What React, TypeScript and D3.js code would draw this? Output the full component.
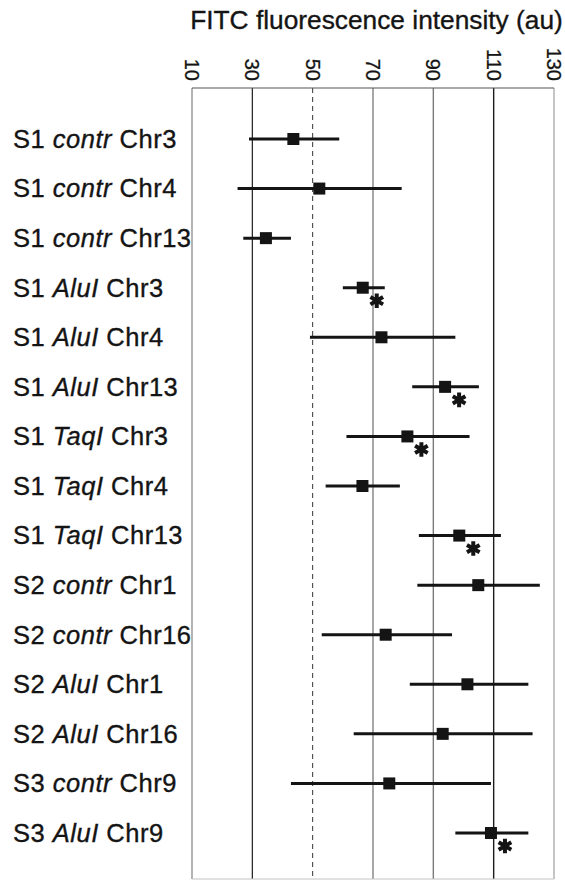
import * as d3 from 'd3'

// FITC intensity per sample / treatment / chromosome, mean with range bars
const SAMPLES = ['S1', 'S1', 'S1', 'S1', 'S1', 'S1', 'S1', 'S1', 'S1', 'S2', 'S2', 'S2', 'S2', 'S3', 'S3']
const TREATMENTS = ['contr', 'contr', 'contr', 'AluI', 'AluI', 'AluI', 'TaqI', 'TaqI', 'TaqI', 'contr', 'contr', 'AluI', 'AluI', 'contr', 'AluI']
const CHROMS = ['Chr3', 'Chr4', 'Chr13', 'Chr3', 'Chr4', 'Chr13', 'Chr3', 'Chr4', 'Chr13', 'Chr1', 'Chr16', 'Chr1', 'Chr16', 'Chr9', 'Chr9']
const MEANS = [43.6, 52.2, 34.5, 66.6, 72.8, 93.9, 81.4, 66.5, 98.6, 104.9, 74.2, 101.3, 93.1, 75.4, 109.1]
const LOWS = [28.9, 25.1, 27.0, 60.0, 49.1, 83.0, 61.2, 54.3, 85.2, 84.7, 53.0, 82.2, 63.6, 42.8, 97.3]
const HIGHS = [58.8, 79.5, 42.8, 73.9, 97.3, 105.1, 102.0, 78.9, 112.4, 125.3, 96.2, 121.5, 122.9, 109.1, 121.5]
const SIGNIFICANT = [false, false, false, true, false, true, true, false, true, false, false, false, false, false, true]
const TICKS = [10, 30, 50, 70, 90, 110, 130]

const W = 565, H = 881
const FONT = '"Liberation Sans", Arial, sans-serif'
const INK = '#141414'

// scan-like look of the gridlines
const GRID_STYLE: Record<number, { stroke: string; width: number; dash?: string }> = {
  10: { stroke: '#8a8a8a', width: 1.3 },
  30: { stroke: '#1c1c1c', width: 1.2 },
  50: { stroke: '#333', width: 1, dash: '5,4' },
  70: { stroke: '#8a8a8a', width: 1.5 },
  90: { stroke: '#7a7a7a', width: 1.4 },
  110: { stroke: '#1c1c1c', width: 1.4 },
  130: { stroke: '#a0a0a0', width: 1.2 },
}

export default function App() {
  const rows = MEANS.map((m, i) => ({
    key: `${SAMPLES[i]}-${TREATMENTS[i]}-${CHROMS[i]}-${i}`,
    sample: SAMPLES[i], treat: TREATMENTS[i], chrom: CHROMS[i],
    mean: m, lo: LOWS[i], hi: HIGHS[i], sig: SIGNIFICANT[i],
  }))

  const plotTop = 88, plotBottom = 879
  const x = d3.scaleLinear().domain([10, 130]).range([192, 554])
  const y = d3.scalePoint<string>().domain(rows.map(r => r.key)).range([139, 833])

  const star = d3.symbol().type(d3.symbolAsterisk).size(150)()

  return (
    <div style={{ position: 'absolute', left: 0, top: 0 }}>
      <svg width={W} height={H} style={{ display: 'block', background: '#fff' }}>
        <text x={376.5} y={29} textAnchor="middle" fontFamily={FONT} fontSize={26.3} fill={INK}
          stroke={INK} strokeWidth={0.35}>
          FITC fluorescence intensity (au)
        </text>

        {/* tick labels, rotated clockwise */}
        {TICKS.map(t => (
          <text key={t} transform={`translate(${x(t)},81) rotate(90)`} textAnchor="end" dy="0.35em"
            fontFamily={FONT} fontSize={20} fill={INK} stroke={INK} strokeWidth={0.3}>{t}</text>
        ))}

        {/* gridlines */}
        {TICKS.map(t => {
          const s = GRID_STYLE[t]
          return (
            <line key={t} x1={x(t)} x2={x(t)} y1={plotTop} y2={plotBottom}
              stroke={s.stroke} strokeWidth={s.width} strokeDasharray={s.dash} />
          )
        })}
        <line x1={x(10)} x2={x(130)} y1={plotTop} y2={plotTop} stroke="#555" strokeWidth={1.2} />
        <line x1={x(10)} x2={x(130)} y1={plotBottom} y2={plotBottom} stroke="#c4c4c4" strokeWidth={1.2} />

        {/* row labels */}
        {rows.map(r => (
          <text key={r.key} x={13} y={y(r.key)} dy="0.35em" fontFamily={FONT} fontSize={25.5}
            letterSpacing={0.5} fill={INK} stroke={INK} strokeWidth={0.35}>
            {r.sample}{' '}<tspan fontStyle="italic">{r.treat}</tspan>{' '}{r.chrom}
          </text>
        ))}

        {/* range bars, means and significance stars */}
        {rows.map(r => {
          const cy = y(r.key) as number
          const cx = x(r.mean)
          return (
            <g key={r.key}>
              <line x1={x(r.lo)} x2={x(r.hi)} y1={cy} y2={cy} stroke={INK} strokeWidth={3} />
              <rect x={cx - 6} y={cy - 6} width={12} height={12} fill={INK} />
              {r.sig && (
                <path d={star ?? ''} transform={`translate(${cx + 14},${cy + 13})`}
                  stroke={INK} strokeWidth={4} fill="none" />
              )}
            </g>
          )
        })}
      </svg>
    </div>
  )
}
